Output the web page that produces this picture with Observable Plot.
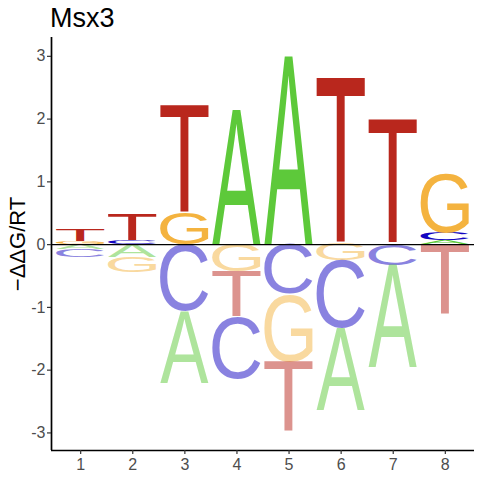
<!DOCTYPE html>
<html><head><meta charset="utf-8">
<script src="https://cdn.jsdelivr.net/npm/d3@7"></script>
<script src="https://cdn.jsdelivr.net/npm/@observablehq/plot@0.6"></script>
<style>
body{margin:0;background:#fff}
#chart svg{display:block;background:#fff}
</style></head><body><div id="chart"></div>
<script>
const positions = [1, 2, 3, 4, 5, 6, 7, 8];
const letters = ["A", "C", "G", "T"];
// heights above zero, per position
const upA = [0, 0, 0, 2.15, 3.00, 0, 0, 0.06];
const upC = [0, 0.06, 0, 0, 0, 0, 0, 0.12];
const upG = [0.04, 0, 0.51, 0, 0, 0, 0, 0.94];
const upT = [0.19, 0.41, 1.72, 0, 0, 2.65, 1.98, 0];
// magnitudes below zero, per position
const dnA = [0.08, 0.20, 1.15, 0, 0, 1.30, 1.63, 0];
const dnC = [0.13, 0, 1.07, 0.98, 0.79, 1.08, 0.33, 0];
const dnG = [0, 0.25, 0, 0.43, 1.08, 0.26, 0, 0];
const dnT = [0, 0, 0, 0.73, 1.11, 0, 0, 1.11];
const yTicks = [-3, -2, -1, 0, 1, 2, 3];
const colors = {A: "#5DC93A", C: "#1405C1", G: "#F4B33F", T: "#B9271D"};
const title = "Msx3";
const yLabel = "\u2212\u0394\u0394G/RT";

const up = {A: upA, C: upC, G: upG, T: upT};
const dn = {A: dnA, C: dnC, G: dnG, T: dnT};
const rows = [];
positions.forEach((p, i) => {
  let acc = 0;
  letters.map(l => ({l, v: up[l][i]})).filter(d => d.v > 0).sort((a, b) => a.v - b.v)
    .forEach(d => { rows.push({pos: p, letter: d.l, y1: acc, y2: acc + d.v, neg: false}); acc += d.v; });
  acc = 0;
  letters.map(l => ({l, v: dn[l][i]})).filter(d => d.v > 0).sort((a, b) => a.v - b.v)
    .forEach(d => { rows.push({pos: p, letter: d.l, y1: acc - d.v, y2: acc, neg: true}); acc -= d.v; });
});

const xDom = [0.44, 8.56], yDom = [-3.28, 3.30];
const plot = Plot.plot({
  width: 480, height: 480,
  marginLeft: 51, marginRight: 6, marginTop: 37, marginBottom: 30,
  style: {fontFamily: "Liberation Sans, Arial, sans-serif", fontSize: "16px", background: "#fff"},
  x: {domain: xDom}, y: {domain: yDom},
  marks: [
    Plot.rect(rows, {x1: d => d.pos - 0.465, x2: d => d.pos + 0.465, y1: "y1", y2: "y2", fill: "none"}),
    Plot.ruleY([0], {stroke: "#000", strokeWidth: 1.3}),
    Plot.ruleX([xDom[0]], {stroke: "#000", strokeWidth: 1.7}),
    Plot.ruleY([yDom[0]], {stroke: "#000", strokeWidth: 1.7}),
    Plot.axisX({ticks: positions, tickFormat: d => String(d), tickSize: 4, tickPadding: 4, fontSize: 16, label: null, stroke: "#333", strokeWidth: 1.2}),
    Plot.axisY({ticks: yTicks, tickFormat: d => String(d), tickSize: 4, tickPadding: 2, fontSize: 16, label: null, stroke: "#333", strokeWidth: 1.2}),
    Plot.text([title], {text: d => d, frameAnchor: "top-left", textAnchor: "start", lineAnchor: "bottom", dx: -1.5, dy: -10.5, fontSize: 27, fill: "#000"}),
    Plot.text([yLabel], {text: d => d, frameAnchor: "left", textAnchor: "middle", lineAnchor: "bottom", rotate: -90, dx: -27, fontSize: 22, fill: "#000"})
  ]
});
document.getElementById("chart").appendChild(plot);

// tick label styling
plot.querySelectorAll('g[aria-label="x-axis tick label"], g[aria-label="y-axis tick label"]').forEach(grp => {
  grp.setAttribute("font-size", "16");
  grp.style.fontSize = "16px";
  grp.querySelectorAll("text").forEach(t => { t.style.fontSize = "16px"; t.style.fill = "#4D4D4D"; });
});

// turn each stacked rectangle into a letter stretched to fill it
const ctx = document.createElement("canvas").getContext("2d");
ctx.font = '100px "Liberation Sans"';
ctx.textAlign = "left";
ctx.textBaseline = "alphabetic";
const metrics = {};
letters.forEach(l => {
  const m = ctx.measureText(l);
  metrics[l] = {left: m.actualBoundingBoxLeft, right: m.actualBoundingBoxRight, asc: m.actualBoundingBoxAscent, desc: m.actualBoundingBoxDescent};
});
const NS = "http://www.w3.org/2000/svg";
const rects = Array.from(plot.querySelectorAll('g[aria-label="rect"] rect'));
const g = rects.length ? rects[0].parentNode : plot;
rects.forEach((r, i) => {
  const d = rows[i];
  const rx = +r.getAttribute("x"), ry = +r.getAttribute("y");
  const rw = +r.getAttribute("width"), rh = +r.getAttribute("height");
  const m = metrics[d.letter];
  const sx = rw / (m.left + m.right), sy = rh / (m.asc + m.desc);
  const t = document.createElementNS(NS, "text");
  t.textContent = d.letter;
  t.setAttribute("font-family", "Liberation Sans");
  t.setAttribute("font-size", "100");
  t.setAttribute("text-anchor", "start");
  t.setAttribute("dominant-baseline", "alphabetic");
  t.setAttribute("fill", colors[d.letter]);
  if (d.neg) t.setAttribute("fill-opacity", "0.5");
  t.setAttribute("stroke", "none");
  t.setAttribute("transform", `translate(${rx + m.left * sx},${ry + m.asc * sy}) scale(${sx},${sy})`);
  g.appendChild(t);
  r.remove();
});
</script></body></html>
